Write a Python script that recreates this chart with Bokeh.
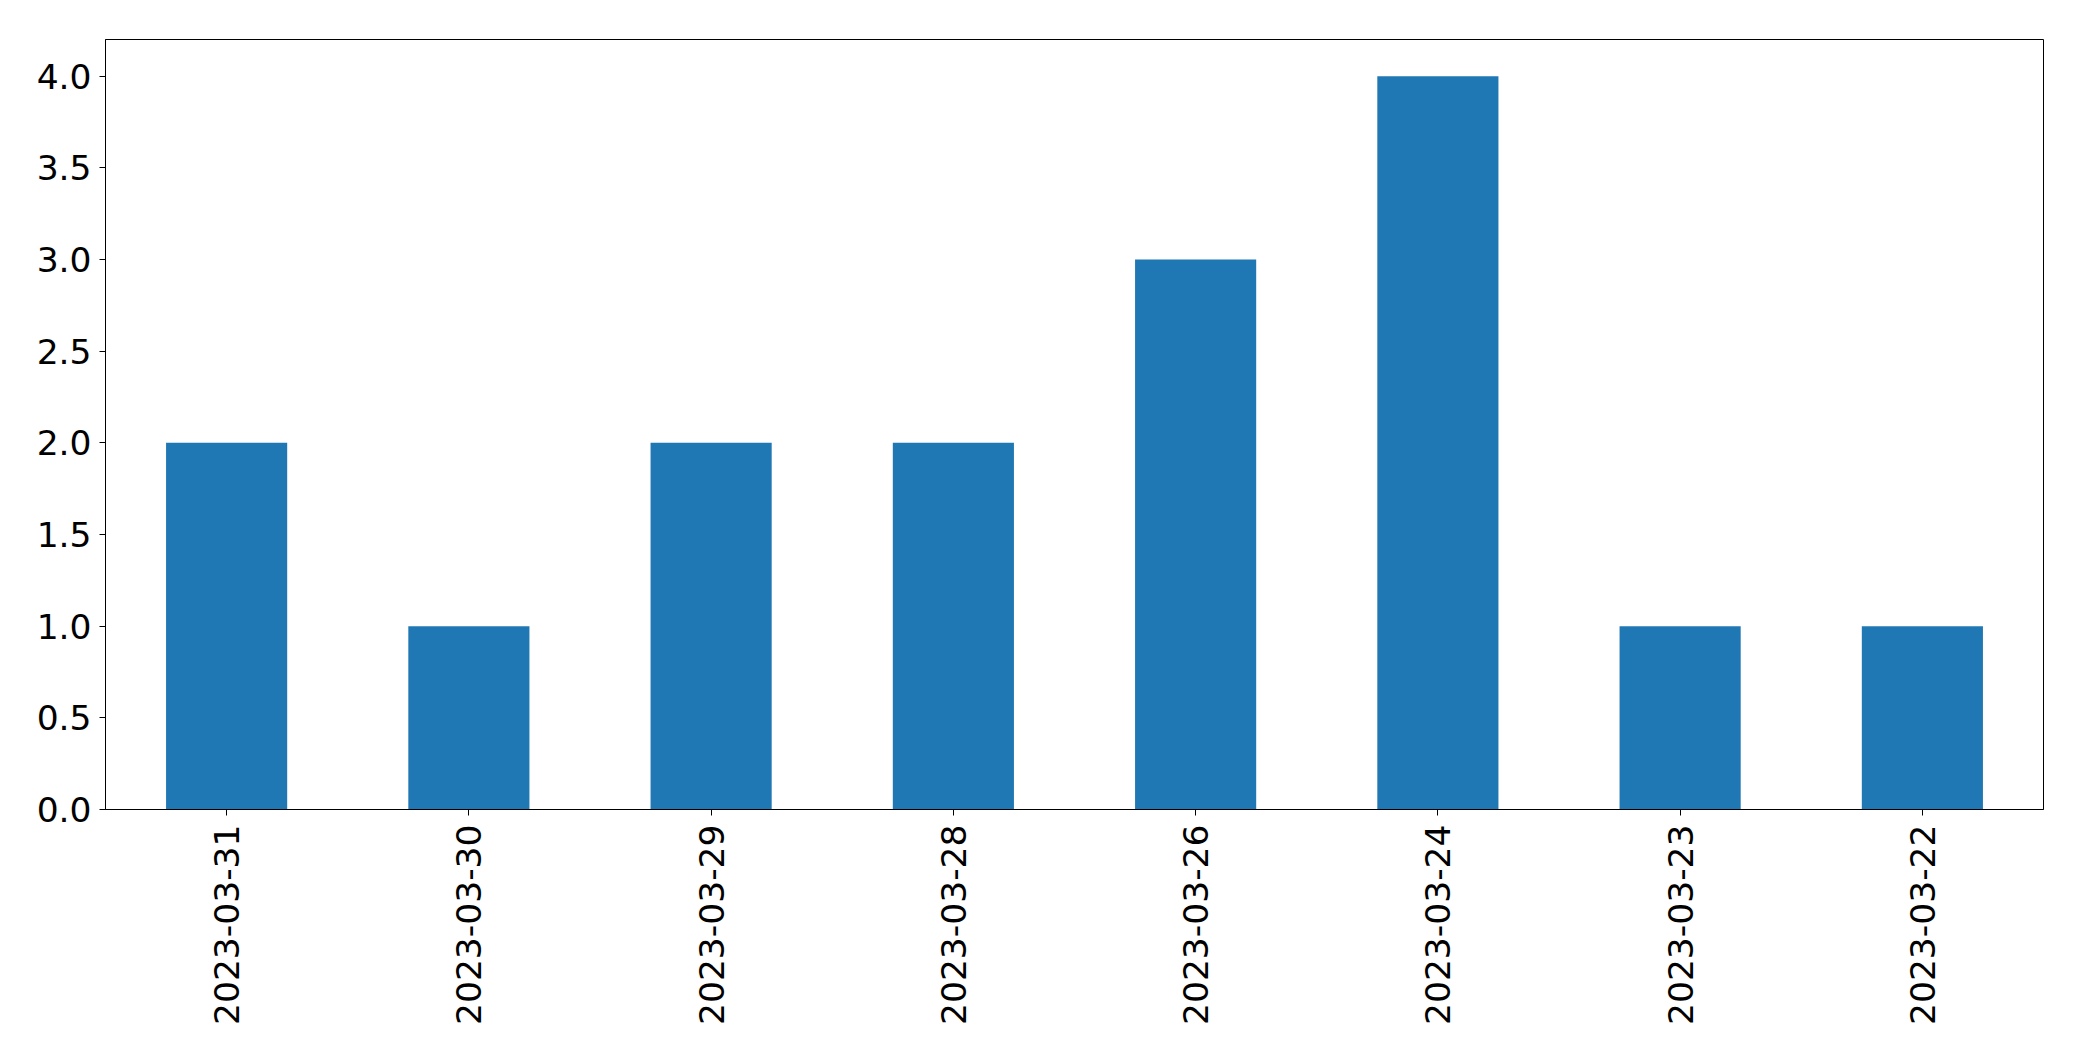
import math
from bokeh.plotting import figure
from bokeh.models import FactorRange, Range1d, FixedTicker, NumeralTickFormatter, ColumnDataSource
from bokeh.embed import file_html
from bokeh.resources import INLINE

dates = ["2023-03-31", "2023-03-30", "2023-03-29", "2023-03-28",
         "2023-03-26", "2023-03-24", "2023-03-23", "2023-03-22"]
counts = [2, 1, 2, 2, 3, 4, 1, 1]
y_ticks = [0, 0.5, 1.0, 1.5, 2.0, 2.5, 3.0, 3.5, 4.0]

src = ColumnDataSource(dict(x=dates, y=counts))

p = figure(width=2066, height=1045, output_backend="svg", toolbar_location=None,
           x_range=FactorRange(factors=dates, range_padding=0),
           y_range=Range1d(0, 4.2),
           min_border_left=105, min_border_right=23, min_border_top=39, min_border_bottom=236)

p.vbar(x="x", top="y", width=0.5, bottom=0, source=src, fill_color="#1f77b4", line_color=None)

p.xgrid.visible = False
p.ygrid.visible = False
p.outline_line_color = "black"
p.outline_line_width = 1
p.outline_line_alpha = 1
p.background_fill_color = "white"
p.border_fill_color = "white"

for ax in (p.xaxis[0], p.yaxis[0]):
    ax.major_label_text_font = "DejaVu Sans"
    ax.major_label_text_font_size = "34.5px"
    ax.major_label_text_color = "black"
    ax.axis_line_color = "black"
    ax.major_tick_line_color = "black"
    ax.major_tick_out = 6
    ax.major_tick_in = 0
    ax.minor_tick_line_color = None

p.yaxis[0].ticker = FixedTicker(ticks=y_ticks)
p.yaxis[0].formatter = NumeralTickFormatter(format="0.0")
p.yaxis[0].major_label_standoff = 8
p.xaxis[0].major_label_orientation = math.pi / 2
p.xaxis[0].major_label_standoff = 9
p.xaxis[0].group_text_font_size = "0px"

open("out.html", "w").write(file_html(p, INLINE))
